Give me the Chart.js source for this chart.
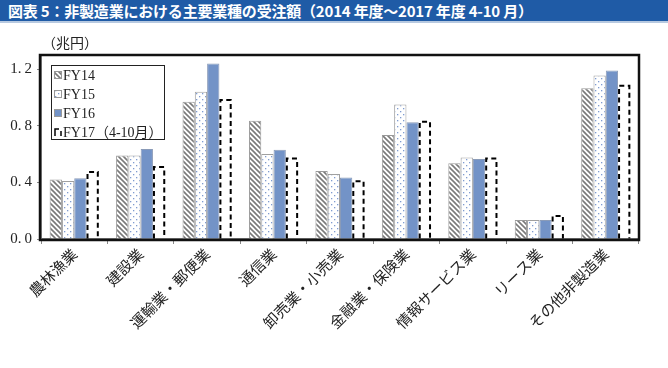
<!DOCTYPE html>
<html>
<head>
<meta charset="utf-8">
<script src="https://cdn.jsdelivr.net/npm/chart.js@4/dist/chart.umd.min.js"></script>
<style>
  body { margin: 0; background: #fff; width: 668px; height: 368px; overflow: hidden; }
  #title {
    height: 21px; line-height: 21px; background: #1f5ba6; color: #fff;
    font-family: "Noto Sans CJK JP", sans-serif; font-weight: bold; font-size: 15px;
    letter-spacing: -0.2px;
    padding-left: 8px; border-bottom: 2px solid #b7c9e0;
  }
  #wrap { position: relative; width: 668px; height: 345px; }
</style>
</head>
<body>
<div id="title">図表 5：非製造業における主要業種の受注額（2014 年度～2017 年度 4-10 月）</div>
<div id="wrap"><canvas id="chart"></canvas></div>
<script>
// ---- data ----
const CATEGORIES = ['農林漁業', '建設業', '運輸業・郵便業', '通信業', '卸売業・小売業',
                    '金融業・保険業', '情報サービス業', 'リース業', 'その他非製造業'];
const FY14 = [0.42, 0.59, 0.97, 0.835, 0.48, 0.735, 0.535, 0.135, 1.065];
const FY15 = [0.41, 0.59, 1.04, 0.60, 0.46, 0.95, 0.575, 0.135, 1.155];
const FY16 = [0.43, 0.635, 1.24, 0.63, 0.435, 0.825, 0.565, 0.135, 1.19];
const FY17 = [0.48, 0.515, 0.99, 0.575, 0.415, 0.835, 0.575, 0.17, 1.09];
const SERIES_NAMES = ['FY14', 'FY15', 'FY16', 'FY17（4-10月）'];
const Y_TICKS = [0, 0.4, 0.8, 1.2];

// ---- patterns ----
function hatchPattern() {
    const c = document.createElement('canvas');
    c.width = 5; c.height = 5;
    const g = c.getContext('2d');
    g.fillStyle = '#fff'; g.fillRect(0, 0, 5, 5);
    g.strokeStyle = '#7a7a7a'; g.lineWidth = 1.6;
    g.beginPath();
    g.moveTo(-1, -1); g.lineTo(6, 6);
    g.moveTo(-1, 4); g.lineTo(1, 6);
    g.moveTo(4, -1); g.lineTo(6, 1);
    g.stroke();
    return g.createPattern(c, 'repeat');
}
function dotPattern() {
    const c = document.createElement('canvas');
    c.width = 6; c.height = 6;
    const g = c.getContext('2d');
    g.fillStyle = '#fff'; g.fillRect(0, 0, 6, 6);
    g.fillStyle = '#7f9bd0';
    g.fillRect(1, 1, 1.3, 1.3);
    g.fillRect(4, 4, 1.3, 1.3);
    return g.createPattern(c, 'repeat');
}
const PAT14 = hatchPattern();
const PAT15 = dotPattern();
const COL16 = '#7393c7';

const SERIF = '"Liberation Serif", "Noto Sans CJK JP", serif';

// ---- plugin: dashed FY17 bars, frame, unit label, legend ----
const decor = {
    id: 'decor',
    afterDatasetsDraw(chart) {
        const ctx = chart.ctx;
        const meta = chart.getDatasetMeta(3);
        ctx.save();
        ctx.strokeStyle = '#000';
        ctx.lineWidth = 2;
        ctx.setLineDash([5, 3.5]);
        meta.data.forEach(bar => {
            const p = bar.getProps(['x', 'y', 'base', 'width'], true);
            const l = p.x - p.width / 2 + 1, r = p.x + p.width / 2 - 1;
            ctx.beginPath();
            ctx.moveTo(l, p.base);
            ctx.lineTo(l, p.y + 1);
            ctx.lineTo(r, p.y + 1);
            ctx.lineTo(r, p.base);
            ctx.stroke();
        });
        ctx.restore();
    },
    afterDraw(chart) {
        const ctx = chart.ctx;
        const a = chart.chartArea;
        ctx.save();
        // frame
        ctx.strokeStyle = '#111';
        ctx.lineWidth = 2.5;
        ctx.strokeRect(a.left - 1, a.top, a.right - a.left + 1, a.bottom - a.top + 1);
        // unit
        ctx.fillStyle = '#222';
        ctx.font = '14px ' + SERIF;
        ctx.textBaseline = 'middle';
        ctx.fillText('（兆円）', 42, 21);
        // legend
        const lx = 51, ly = 42, lw = 113, lh = 74;
        ctx.fillStyle = '#fff';
        ctx.fillRect(lx, ly, lw, lh);
        ctx.strokeStyle = '#222';
        ctx.lineWidth = 1;
        ctx.strokeRect(lx + 0.5, ly + 0.5, lw, lh);
        const fills = [PAT14, PAT15, COL16, null];
        ctx.font = '14px ' + SERIF;
        SERIES_NAMES.forEach((name, i) => {
            const cy = ly + 10 + i * 19;
            const sx = lx + 3, sy = cy - 4;
            if (fills[i]) {
                ctx.fillStyle = fills[i];
                ctx.fillRect(sx, sy, 8, 8);
                ctx.strokeStyle = '#999';
                ctx.strokeRect(sx + 0.5, sy + 0.5, 7, 7);
            } else {
                ctx.strokeStyle = '#000';
                ctx.lineWidth = 1.5;
                ctx.beginPath();
                ctx.moveTo(sx + 1, sy + 8); ctx.lineTo(sx + 1, sy + 1); ctx.lineTo(sx + 5, sy + 1);
                ctx.moveTo(sx + 7, sy + 3); ctx.lineTo(sx + 7, sy + 8);
                ctx.stroke();
                ctx.lineWidth = 1;
            }
            ctx.fillStyle = '#222';
            ctx.fillText(name, sx + 9, cy + 1);
        });
        ctx.restore();
    }
};

const barBase = { borderWidth: 1, borderSkipped: 'bottom', categoryPercentage: 0.74, barPercentage: 1.0 };

new Chart(document.getElementById('chart'), {
    type: 'bar',
    data: {
        labels: CATEGORIES,
        datasets: [
            { ...barBase, label: SERIES_NAMES[0], data: FY14, backgroundColor: PAT14, borderColor: '#9a9a9a' },
            { ...barBase, label: SERIES_NAMES[1], data: FY15, backgroundColor: PAT15, borderColor: '#a0a0a0' },
            { ...barBase, label: SERIES_NAMES[2], data: FY16, backgroundColor: COL16, borderColor: '#8a9bb8' },
            { ...barBase, label: SERIES_NAMES[3], data: FY17, backgroundColor: 'rgba(0,0,0,0)', borderWidth: 0 }
        ]
    },
    options: {
        responsive: true,
        maintainAspectRatio: false,
        animation: false,
        layout: { padding: { top: 32, right: 29, left: 0, bottom: 0 } },
        plugins: { legend: { display: false }, tooltip: { enabled: false } },
        scales: {
            x: {
                grid: { drawOnChartArea: false, tickLength: 5, color: '#888', offset: true },
                border: { color: '#777', width: 2 },
                ticks: {
                    color: '#222', maxRotation: 45, minRotation: 45, autoSkip: false, padding: 1,
                    font: { family: '"Noto Sans CJK JP", sans-serif', size: 15 }
                },
                afterFit(scale) { scale.height = 129; }
            },
            y: {
                min: 0, max: 1.3,
                afterBuildTicks(scale) { scale.ticks = Y_TICKS.map(v => ({ value: v })); },
                grid: { drawOnChartArea: false, tickLength: 4, color: '#888' },
                border: { color: '#888', width: 1 },
                ticks: {
                    color: '#222', padding: 5,
                    font: { family: SERIF, size: 15 },
                    callback: v => v.toFixed(1).replace('.', '.\u2009')
                },
                afterFit(scale) { scale.width = 41; }
            }
        }
    },
    plugins: [decor]
});
</script>
</body>
</html>
